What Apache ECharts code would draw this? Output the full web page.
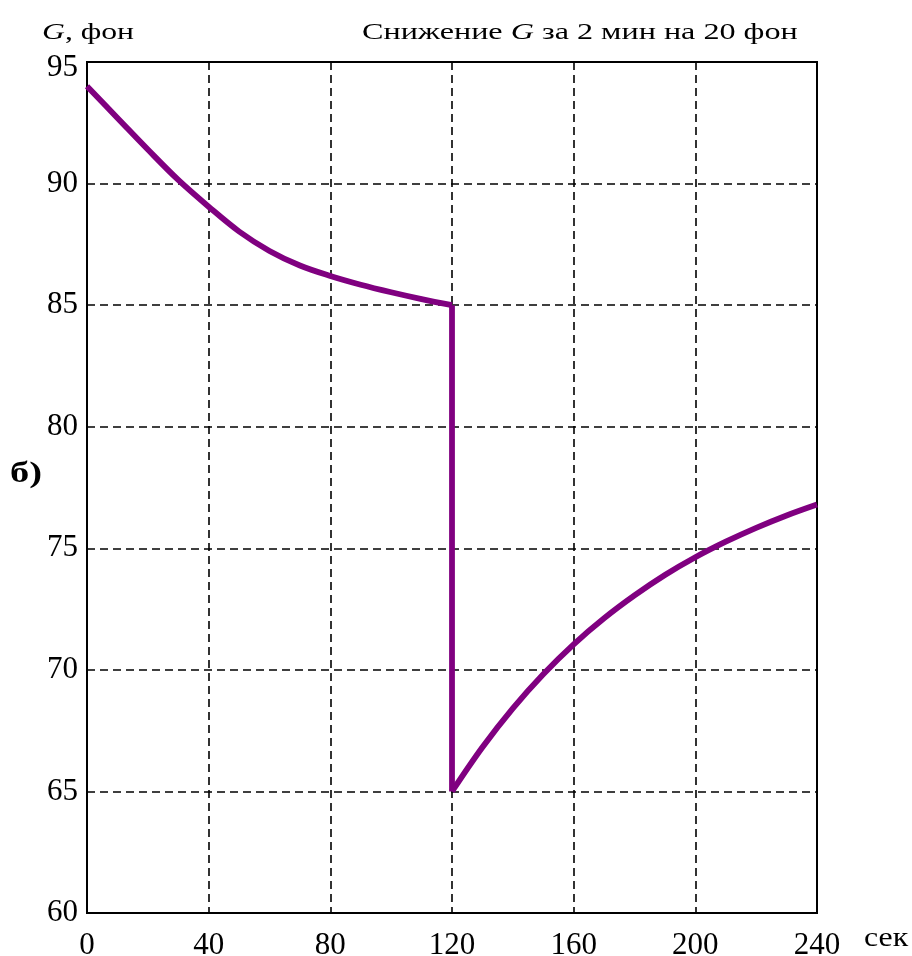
<!DOCTYPE html>
<html>
<head>
<meta charset="utf-8">
<script src="https://cdn.jsdelivr.net/npm/echarts@6/dist/echarts.min.js"></script>
<style>
  html, body { margin: 0; padding: 0; background: #fff; }
  #chart { width: 912px; height: 956px; }
</style>
</head>
<body>
<div id="chart"></div>
<script>
// Loudness level G (phon) over time, seconds
const timeBefore = [0, 10, 20, 30, 40, 50, 60, 70, 80, 90, 100, 110, 120];
const levelBefore = [94.0, 92.7, 91.4, 90.15, 89.05, 88.03, 87.23, 86.63, 86.2, 85.84, 85.53, 85.25, 85.0];
const timeDrop = [120, 120];
const levelDrop = [85.0, 65.0];
const timeAfter = [120, 130, 140, 150, 160, 170, 180, 190, 200, 210, 220, 230, 240];
const levelAfter = [65.0, 66.82, 68.42, 69.82, 71.05, 72.12, 73.06, 73.9, 74.63, 75.27, 75.84, 76.35, 76.8];
const xTicks = [0, 40, 80, 120, 160, 200, 240];
const yTicks = [60, 65, 70, 75, 80, 85, 90, 95];

const FONT = '"Liberation Serif", "DejaVu Serif", serif';
const LINE_COLOR = '#800080';

const pairs = (xs, ys) => xs.map((x, i) => [x, ys[i]]);

const baseSeries = {
  type: 'line',
  showSymbol: false,
  symbol: 'none',
  lineStyle: { color: LINE_COLOR, width: 5.8, cap: 'butt', join: 'round' },
  itemStyle: { color: LINE_COLOR },
  animation: false
};

const gridDash = { color: '#000', type: [8, 5], width: 1.6 };
const tickFont = { color: '#000', fontFamily: FONT, fontSize: 31 };

const chart = echarts.init(document.getElementById('chart'), null, { renderer: 'canvas' });
chart.setOption({
  backgroundColor: '#fff',
  animation: false,
  grid: {
    left: 87, right: 95, top: 62, bottom: 43,
    containLabel: false, outerBoundsMode: 'none',
    show: true, borderColor: '#000', borderWidth: 2, backgroundColor: 'transparent'
  },
  xAxis: {
    type: 'value',
    min: xTicks[0], max: xTicks[xTicks.length - 1], interval: 40,
    axisLine: { show: false },
    axisTick: { show: false },
    axisLabel: Object.assign({ margin: 17 }, tickFont),
    splitLine: { show: true, lineStyle: gridDash }
  },
  yAxis: {
    type: 'value',
    min: yTicks[0], max: yTicks[yTicks.length - 1], interval: 5,
    axisLine: { show: false },
    axisTick: { show: false },
    axisLabel: Object.assign({
      margin: 9,
      // the top label sits a little below the frame edge
      formatter: v => (v === yTicks[yTicks.length - 1] ? '{top|' + v + '}' : String(v)),
      rich: { top: Object.assign({ padding: [12, 0, 0, 0] }, tickFont) }
    }, tickFont),
    splitLine: { show: true, lineStyle: gridDash }
  },
  series: [
    Object.assign({}, baseSeries, { data: pairs(timeBefore, levelBefore), smooth: 0.35 }),
    Object.assign({}, baseSeries, { data: pairs(timeDrop, levelDrop) }),
    Object.assign({}, baseSeries, { data: pairs(timeAfter, levelAfter), smooth: 0.35 })
  ],
  graphic: [
    {
      type: 'text', x: 42, y: 33, scaleX: 1.32,
      style: {
        text: '{i|G}{n|, фон}',
        verticalAlign: 'middle',
        rich: {
          i: { fontFamily: FONT, fontSize: 24, fontStyle: 'italic', fill: '#000' },
          n: { fontFamily: FONT, fontSize: 24, fill: '#000' }
        }
      }
    },
    {
      type: 'text', x: 362, y: 33, scaleX: 1.34,
      style: {
        text: '{n|Снижение }{i|G}{n| за 2 мин на 20 фон}',
        verticalAlign: 'middle',
        rich: {
          i: { fontFamily: FONT, fontSize: 24, fontStyle: 'italic', fill: '#000' },
          n: { fontFamily: FONT, fontSize: 24, fill: '#000' }
        }
      }
    },
    {
      type: 'text', x: 10, y: 474, scaleX: 1.28,
      style: { text: 'б)', fontFamily: FONT, fontSize: 30, fontWeight: 'bold', fill: '#000', verticalAlign: 'middle' }
    },
    {
      type: 'text', x: 864, y: 939, scaleX: 1.18,
      style: { text: 'сек', fontFamily: FONT, fontSize: 27, fill: '#000', verticalAlign: 'middle' }
    }
  ]
});
</script>
</body>
</html>
